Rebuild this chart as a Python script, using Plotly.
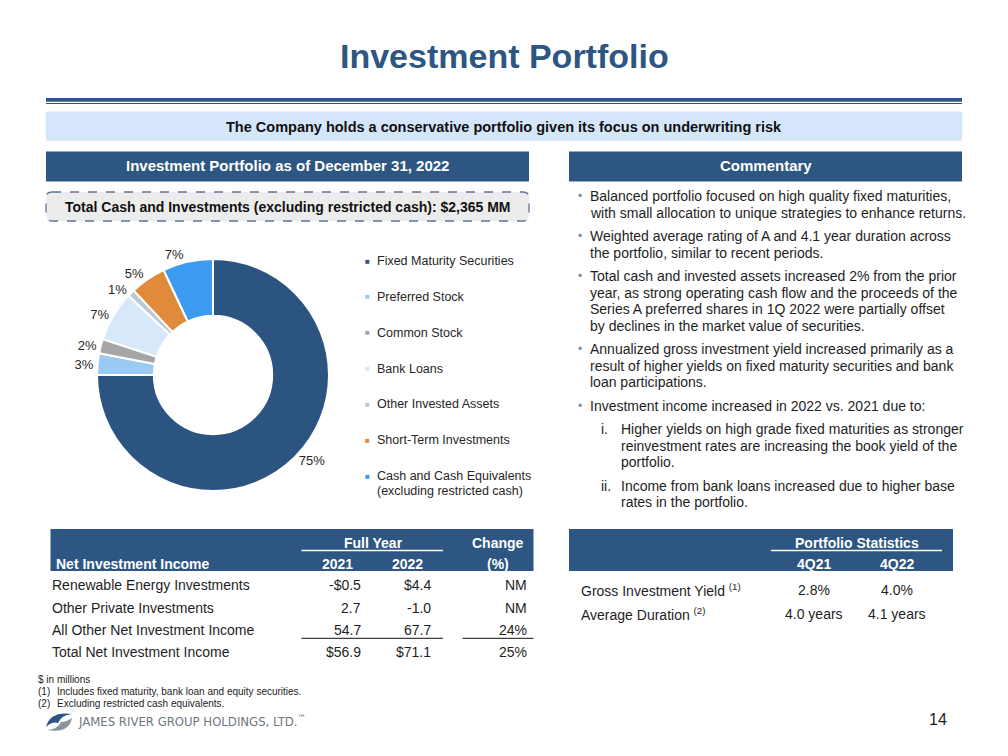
import plotly.graph_objects as go

W, H = 1008, 756


def X(px):
    return px / W


def Y(py):
    return 1 - py / H


FONT = "Liberation Sans, Arial, sans-serif"
NAVY = "#2D5682"
TXT = "#1E1E1E"

# ---------------- data ----------------
categories = [
    "Fixed Maturity Securities",
    "Preferred Stock",
    "Common Stock",
    "Bank Loans",
    "Other Invested Assets",
    "Short-Term Investments",
    "Cash and Cash Equivalents<br>(excluding restricted cash)",
]
shares = [75, 3, 2, 7, 1, 5, 7]
slice_colors = ["#2C5481", "#9ACAF4", "#A6A6A6", "#D6E8FA", "#BEC8D4", "#E08A3B", "#3A9BF0"]

nii_items = [
    "Renewable Energy Investments",
    "Other Private Investments",
    "All Other Net Investment Income",
    "Total Net Investment Income",
]
nii_years = ["2021", "2022"]
nii_2021 = [-0.5, 2.7, 54.7, 56.9]
nii_2022 = [4.4, -1.0, 67.7, 71.1]
nii_change = [None, None, 24, 25]
nii_dollar_rows = [True, False, False, True]

stat_items = ["Gross Investment Yield", "Average Duration"]
stat_notes = ["(1)", "(2)"]
stat_periods = ["4Q21", "4Q22"]
stat_4q21 = [2.8, 4.0]
stat_4q22 = [4.0, 4.1]
stat_units = ["%", " years"]

total_cash_investments = 2365

commentary = [
    ("bullet", ["Balanced portfolio focused on high quality fixed maturities,",
                "with small allocation to unique strategies to enhance returns."]),
    ("bullet", ["Weighted average rating of A and 4.1 year duration across",
                "the portfolio, similar to recent periods."]),
    ("bullet", ["Total cash and invested assets increased 2% from the prior",
                "year, as strong operating cash flow and the proceeds of the",
                "Series A preferred shares in 1Q 2022 were partially offset",
                "by declines in the market value of securities."]),
    ("bullet", ["Annualized gross investment yield increased primarily as a",
                "result of higher yields on fixed maturity securities and bank",
                "loan participations."]),
    ("bullet", ["Investment income increased in 2022 vs. 2021 due to:"]),
    ("i.", ["Higher yields on high grade fixed maturities as stronger",
            "reinvestment rates are increasing the book yield of the",
            "portfolio."]),
    ("ii.", ["Income from bank loans increased due to higher base",
             "rates in the portfolio."]),
]

footnotes = [
    ("", "$ in millions"),
    ("(1)", "Includes fixed maturity, bank loan and equity securities."),
    ("(2)", "Excluding restricted cash equivalents."),
]

# ---------------- figure ----------------
fig = go.Figure()

fig.add_trace(go.Pie(
    labels=categories,
    values=shares,
    sort=False,
    direction="clockwise",
    rotation=0,
    hole=0.51,
    marker=dict(colors=slice_colors, line=dict(color="white", width=2)),
    texttemplate="%{value}%",
    textposition="outside",
    textfont=dict(size=13, color="#262626", family=FONT),
    domain=dict(x=[X(97), X(329)], y=[Y(491), Y(259)]),
    showlegend=False,
    hovertemplate="%{label}: %{value}%<extra></extra>",
))

shapes = []
ann = []


def rect(x0, y0, x1, y1, fill, line=None):
    shapes.append(dict(type="rect", xref="paper", yref="paper",
                       x0=X(x0), x1=X(x1), y0=Y(y1), y1=Y(y0),
                       fillcolor=fill, line=dict(width=0) if line is None else line,
                       layer="below"))


def hline(x0, x1, y, color, width=1):
    shapes.append(dict(type="line", xref="paper", yref="paper",
                       x0=X(x0), x1=X(x1), y0=Y(y), y1=Y(y),
                       line=dict(color=color, width=width)))


def text(x, y, s, size=14, color=TXT, bold=False, anchor="left", family=FONT):
    if bold:
        s = "<b>" + s + "</b>"
    ann.append(dict(xref="paper", yref="paper", x=X(x), y=Y(y), text=s,
                    showarrow=False, xanchor=anchor, yanchor="middle",
                    font=dict(size=size, color=color, family=family)))


# title + rules
text(504, 56, "Investment Portfolio", size=34, color=NAVY, bold=True, anchor="center")
rect(46, 98, 962, 101.8, NAVY)
rect(46, 103, 962, 104, NAVY)
rect(46, 111.5, 962, 140.7, "#D5E6FA")
text(504, 127, "The Company holds a conservative portfolio given its focus on underwriting risk",
     size=14.5, color="#111111", bold=True, anchor="center")

# section headers
rect(46, 151.5, 529, 181.5, NAVY)
text(287.5, 166, "Investment Portfolio as of December 31, 2022", size=15, color="white",
     bold=True, anchor="center")
rect(569, 151.5, 962, 181.5, NAVY)
text(765.5, 166, "Commentary", size=15, color="white", bold=True, anchor="center")

# dashed rounded box
bx0, by0, bx1, by1, r = 46, 192, 529, 221, 6
path = (f"M {X(bx0 + r)},{Y(by0)} L {X(bx1 - r)},{Y(by0)} Q {X(bx1)},{Y(by0)} {X(bx1)},{Y(by0 + r)} "
        f"L {X(bx1)},{Y(by1 - r)} Q {X(bx1)},{Y(by1)} {X(bx1 - r)},{Y(by1)} "
        f"L {X(bx0 + r)},{Y(by1)} Q {X(bx0)},{Y(by1)} {X(bx0)},{Y(by1 - r)} "
        f"L {X(bx0)},{Y(by0 + r)} Q {X(bx0)},{Y(by0)} {X(bx0 + r)},{Y(by0)} Z")
shapes.append(dict(type="path", xref="paper", yref="paper", path=path,
                   fillcolor="#ECECEC", line=dict(color="#5E7596", width=1.3, dash="dash"),
                   layer="below"))
text(287.5, 207, f"Total Cash and Investments (excluding restricted cash): ${total_cash_investments:,} MM",
     size=14, color="#111111", bold=True, anchor="center")

# custom legend built from categories/colors
legend_y = [261, 297, 332.5, 368.5, 404, 440, 476]
for cat, col, ly in zip(categories, slice_colors, legend_y):
    text(367.5, ly, "■", size=8, color=col, anchor="center")
    for k, part in enumerate(cat.split("<br>")):
        text(375, ly + k * 14.5, part, size=12.5, color="#262626")

# commentary
line_h = 16.6
para_gap = 23.4
y = 196
for kind, lines in commentary:
    if kind == "bullet":
        text(576, y, "•", size=12, color="#7F8EA6", anchor="left")
        tx = 588
    else:
        text(599, y, kind, size=14, color=TXT, anchor="left")
        tx = 619
    for i, ln in enumerate(lines):
        text(tx, y + i * line_h, ln, size=14, color=TXT)
    y += (len(lines) - 1) * line_h + para_gap

# ---- Net Investment Income table ----
rect(50.5, 529, 533.5, 571, NAVY)
text(373, 543, "Full Year", size=14, color="white", bold=True, anchor="center")
hline(301.5, 443, 550.5, "white", 1.5)
text(497.5, 543, "Change", size=14, color="white", bold=True, anchor="center")
text(54, 563.5, "Net Investment Income", size=14, color="white", bold=True)
for cx, yr in zip([337, 407.5], nii_years):
    text(cx, 563.5, yr, size=14, color="white", bold=True, anchor="center")
text(497.5, 563.5, "(%)", size=14, color="white", bold=True, anchor="center")


def fmt_money(v, dollar):
    s = f"{abs(v):.1f}"
    if dollar:
        s = "$" + s
    return ("-" + s) if v < 0 else s


row_y = [585, 607.5, 630, 652]
for ry, item, a, b, c, d in zip(row_y, nii_items, nii_2021, nii_2022, nii_change, nii_dollar_rows):
    text(50, ry, item, size=14)
    text(363, ry, fmt_money(a, d), size=14, anchor="right")
    text(433, ry, fmt_money(b, d), size=14, anchor="right")
    text(529, ry, "NM" if c is None else f"{c}%", size=14, anchor="right")
hline(301.5, 443, 638.3, "#111111", 1)
hline(462.5, 533.5, 638.3, "#111111", 1)

# ---- Portfolio statistics table ----
rect(569, 529, 953, 571, NAVY)
text(856.5, 543, "Portfolio Statistics", size=14, color="white", bold=True, anchor="center")
hline(771, 942, 550.5, "white", 1.5)
for cx, p in zip([813.5, 897], stat_periods):
    text(cx, 563.5, p, size=14, color="white", bold=True, anchor="center")
for ry, item, note, a, b, u in zip([589.5, 613.5], stat_items, stat_notes, stat_4q21, stat_4q22, stat_units):
    text(579, ry, f"{item} <sup>{note}</sup>", size=14)
    text(813.5, ry, f"{a:.1f}{u}", size=14, anchor="center")
    text(897, ry, f"{b:.1f}{u}", size=14, anchor="center")

# footnotes
for fy, (lab, note) in zip([679, 691.5, 703], footnotes):
    if lab:
        text(36, fy, lab, size=10, color="#222222")
        text(55, fy, note, size=10, color="#222222")
    else:
        text(36, fy, note, size=10, color="#222222")

# logo (swoosh icon + name)
blue = (f"M {X(46)},{Y(727)} Q {X(50)},{Y(711)} {X(72)},{Y(714)} "
        f"Q {X(61)},{Y(715)} {X(58)},{Y(723)} Q {X(52)},{Y(721)} {X(46)},{Y(727)} Z")
gray = (f"M {X(72)},{Y(718)} Q {X(69)},{Y(734)} {X(47)},{Y(730)} "
        f"Q {X(58)},{Y(729)} {X(61)},{Y(722)} Q {X(66)},{Y(722)} {X(72)},{Y(718)} Z")
shapes.append(dict(type="path", xref="paper", yref="paper", path=blue,
                   fillcolor="#2D5682", line=dict(width=0)))
shapes.append(dict(type="path", xref="paper", yref="paper", path=gray,
                   fillcolor="#8C949C", line=dict(width=0)))
text(76, 721, "JAMES RIVER GROUP HOLDINGS, LTD.<sup>™</sup>", size=13, color="#6E7782",
     family="Liberation Sans Narrow, DejaVu Sans Condensed, sans-serif")

# page number
text(938, 719, "14", size=16, color="#222222", anchor="center")

fig.update_layout(
    width=W, height=H,
    margin=dict(l=0, r=0, t=0, b=0),
    paper_bgcolor="white", plot_bgcolor="white",
    shapes=shapes, annotations=ann,
    font=dict(family=FONT),
)

fig.write_html("out.html", config={"displayModeBar": False},
               post_script="document.body.style.margin='0';document.body.style.overflow='hidden';")
